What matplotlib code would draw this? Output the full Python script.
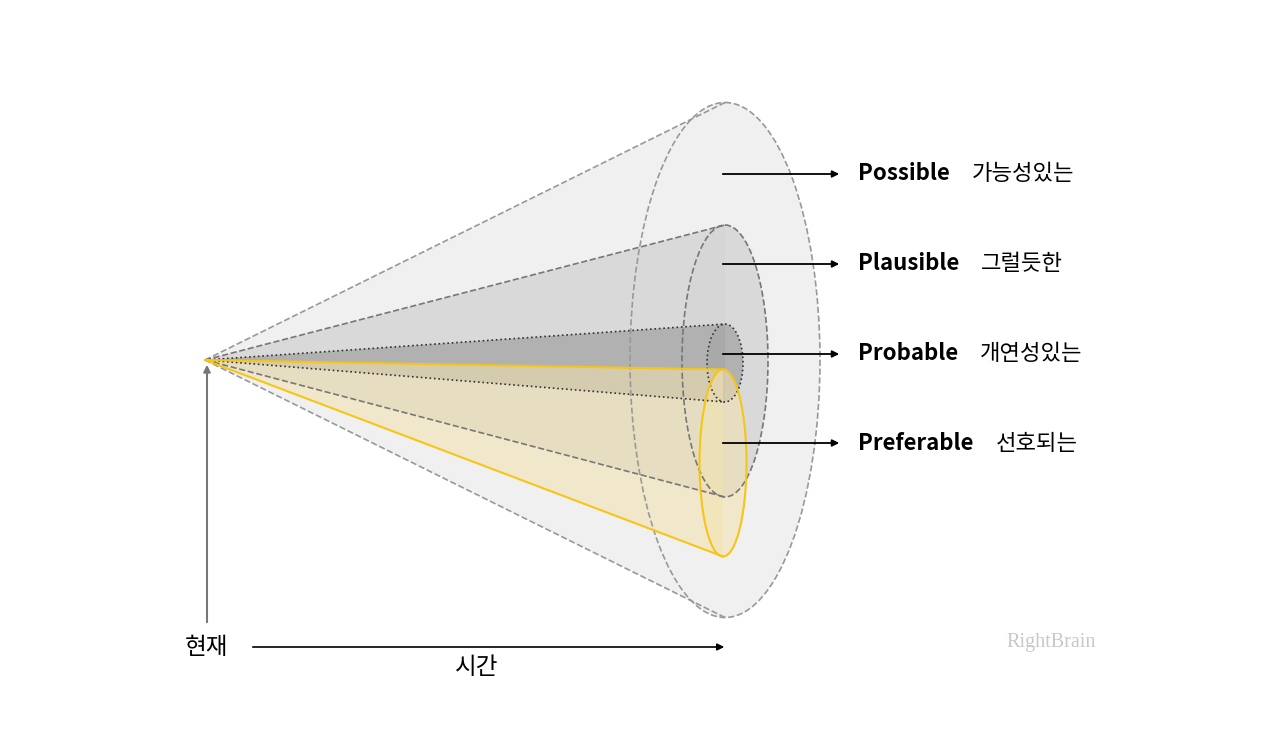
import matplotlib
matplotlib.use("Agg")
import matplotlib.pyplot as plt
from matplotlib.patches import Ellipse, Polygon

plt.rcParams['font.family'] = ['Noto Sans CJK KR', 'DejaVu Sans']

names = ["Possible", "Plausible", "Probable", "Preferable"]
korean = ["가능성있는", "그럴듯한", "개연성있는", "선호되는"]
cx = [725, 725, 725, 723]
cy = [360, 361, 363, 463]
widths = [190, 86, 36, 47]
heights = [515, 272, 78, 187]
fills = ["#f0f0f0", "#d6d6d6", "#a8a8a8", "#f3e3b0"]
alphas = [1.0, 0.85, 0.8, 0.55]
edges = ["#999999", "#777777", "#333333", "#f5c518"]
styles = ["--", "--", ":", "-"]
label_y = [174, 264, 354, 443]
apex = (205, 360)

fig = plt.figure(figsize=(12.8, 7.42), dpi=100)
ax = fig.add_axes([0, 0, 1, 1])
ax.set_xlim(0, 1280); ax.set_ylim(742, 0); ax.axis("off")

for i in range(4):
    top = (cx[i], cy[i] - heights[i] / 2)
    bot = (cx[i], cy[i] + heights[i] / 2)
    ax.add_patch(Polygon([apex, top, bot], closed=True, fc=fills[i], ec="none", alpha=alphas[i], zorder=2 + i))
    ax.add_patch(Ellipse((cx[i], cy[i]), widths[i], heights[i], fc=fills[i], ec="none", alpha=alphas[i], zorder=2 + i))
    lw = 1.5 if i == 3 else 1.2
    ax.plot([apex[0], top[0]], [apex[1], top[1]], ls=styles[i], color=edges[i], lw=lw, zorder=10 + i)
    ax.plot([apex[0], bot[0]], [apex[1], bot[1]], ls=styles[i], color=edges[i], lw=lw, zorder=10 + i)
    ax.add_patch(Ellipse((cx[i], cy[i]), widths[i], heights[i], fc="none", ec=edges[i], ls=styles[i], lw=lw, zorder=10 + i))
    ax.annotate("", xy=(842, label_y[i]), xytext=(720, label_y[i]),
                arrowprops=dict(arrowstyle="-|>", color="black", lw=1.3), zorder=20)
    t = ax.text(858, label_y[i], names[i], fontsize=16, fontweight="bold", va="center", ha="left", zorder=20)
    fig.canvas.draw()
    bb = t.get_window_extent()
    ax.text(bb.x1 + 22, label_y[i], korean[i], fontsize=16, va="center", ha="left", zorder=20)

ax.annotate("", xy=(207, 362), xytext=(207, 625),
            arrowprops=dict(arrowstyle="-|>", color="#777777", lw=1.5), zorder=20)
ax.annotate("", xy=(727, 647), xytext=(250, 647),
            arrowprops=dict(arrowstyle="-|>", color="black", lw=1.2), zorder=20)
ax.text(207, 647, "현재", fontsize=17, ha="center", va="center")
ax.text(477, 667, "시간", fontsize=17, ha="center", va="center")
ax.text(1051, 642, "RightBrain", fontsize=14.5, color="#c8c8c8", family="Liberation Serif", ha="center", va="center")

fig.savefig("out.png", dpi=100)
